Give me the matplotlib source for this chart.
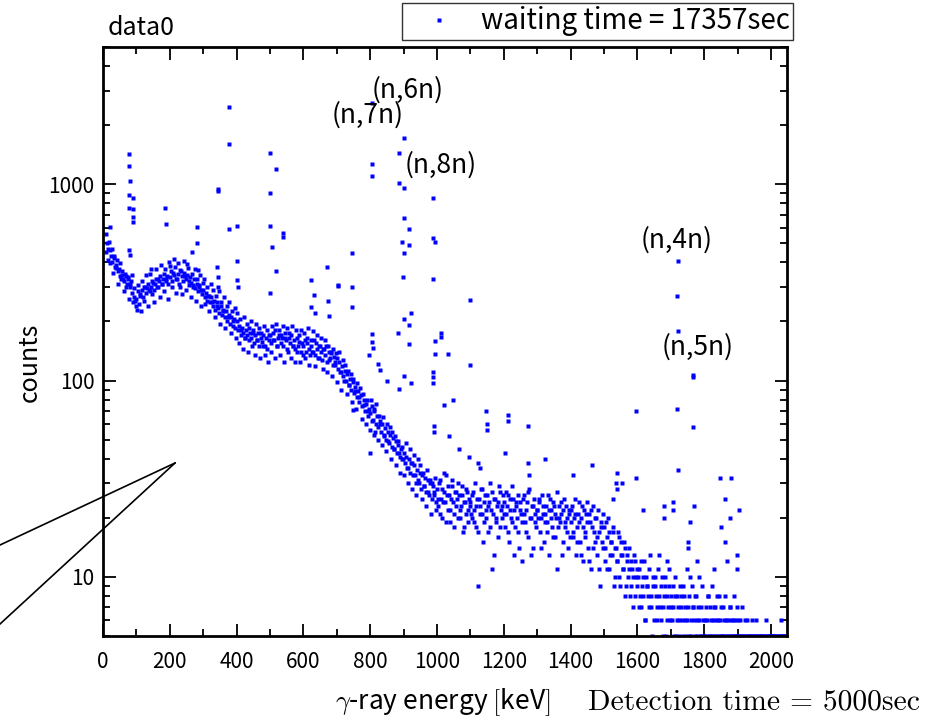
import numpy as np
import matplotlib
matplotlib.use("Agg")
import matplotlib.pyplot as plt
from matplotlib.lines import Line2D
from matplotlib.ticker import MultipleLocator, LogLocator, NullFormatter

plt.rcParams['font.family'] = ['Noto Sans CJK JP', 'DejaVu Sans']
plt.rcParams['mathtext.fontset'] = 'cm'

# continuum: two interleaved sets of channels,
# one at 0, 4, 8 ... keV and one at 2, 6, 10 ... keV
channel_step = 4
counts_a = [
    # 0 - 96
    1, 1, 450, 500, 470, 460, 430, 400, 420, 380, 390, 360, 370, 340, 345,
    330, 320, 340, 310, 330, 300, 320, 280, 265, 255,
    # 100 - 196
    260, 285, 245, 275, 290, 265, 300, 280, 295, 310, 285, 300, 320, 290, 310,
    330, 300, 320, 340, 310, 330, 350, 320, 340, 310,
    # 200 - 296
    335, 360, 320, 345, 380, 330, 350, 310, 365, 340, 320, 355, 330, 345, 305,
    335, 315, 300, 330, 295, 310, 285, 305, 290, 275,
    # 300 - 396
    290, 265, 280, 255, 270, 250, 265, 240, 255, 230, 250, 235, 220, 240, 215,
    230, 210, 225, 200, 215, 195, 210, 190, 205, 185,
    # 400 - 496
    200, 180, 190, 170, 185, 175, 165, 180, 170, 160, 175, 165, 180, 155, 170,
    160, 175, 150, 165, 158, 170, 150, 165, 145, 160,
    # 500 - 596
    170, 155, 175, 160, 180, 150, 165, 170, 155, 165, 150, 175, 160, 145, 165,
    155, 170, 150, 160, 145, 165, 150, 158, 140, 155,
    # 600 - 696
    150, 160, 140, 155, 145, 135, 150, 140, 160, 135, 145, 130, 150, 140, 128,
    145, 135, 150, 125, 140, 130, 138, 120, 132, 125,
    # 700 - 796
    130, 115, 125, 110, 118, 105, 112, 100, 108, 95, 102, 90, 98, 86, 93,
    82, 88, 78, 84, 74, 80, 70, 76, 66, 72,
    # 800 - 896
    68, 74, 63, 70, 60, 66, 58, 62, 55, 60, 52, 57, 50, 55, 48,
    53, 46, 51, 45, 49, 43, 47, 41, 45, 40,
    # 900 - 996
    43, 38, 41, 36, 40, 34, 38, 33, 37, 30, 35, 31, 34, 28, 33,
    29, 32, 27, 31, 26, 30, 25, 29, 27, 24,
    # 1000 - 1096
    28, 23, 31, 25, 20, 27, 24, 33, 22, 26, 19, 29, 24, 21, 27,
    25, 30, 20, 23, 26, 18, 24, 28, 22, 25,
    # 1100 - 1196
    24, 20, 27, 22, 18, 25, 9, 23, 28, 21, 19, 26, 22, 17, 24,
    30, 11, 21, 25, 19, 23, 16, 27, 22, 20,
    # 1200 - 1296
    24, 18, 21, 26, 15, 22, 19, 25, 13, 23, 20, 17, 24, 21, 12,
    26, 19, 22, 16, 28, 20, 23, 14, 21, 18,
    # 1300 - 1396
    22, 25, 17, 20, 23, 15, 21, 19, 26, 13, 22, 18, 24, 16, 20,
    11, 23, 19, 21, 15, 25, 18, 20, 14, 22,
    # 1400 - 1496
    19, 23, 16, 21, 13, 18, 24, 15, 20, 12, 22, 17, 19, 14, 21,
    11, 18, 23, 15, 20, 13, 17, 9, 19, 14,
    # 1500 - 1596
    18, 12, 16, 20, 11, 15, 13, 17, 10, 14, 12, 16, 9, 13, 11,
    15, 8, 12, 10, 14, 9, 11, 7, 12, 10,
    # 1600 - 1696
    9, 11, 8, 7, 10, 12, 6, 9, 8, 11, 7, 5, 9, 10, 8,
    6, 13, 7, 9, 5, 8, 10, 6, 7, 9,
    # 1700 - 1796
    8, 6, 7, 10, 5, 8, 6, 9, 7, 5, 8, 6, 11, 7, 5,
    6, 9, 7, 5, 8, 6, 10, 5, 7, 6,
    # 1800 - 1896
    5, 7, 6, 8, 5, 6, 9, 5, 7, 6, 5, 8, 6, 5, 7,
    5, 6, 12, 5, 7, 6, 5, 8, 6, 5,
    # 1900 - 1996
    6, 5, 5, 7, 5, 4, 5, 6, 5, 4, 5, 5, 3, 5, 6,
    4, 5, 5, 3, 5, 4, 5, 5, 4, 5,
    # 2000 - 2044
    5, 4, 5, 5, 3, 5, 4, 5, 5, 4, 5, 5,
]
counts_b = [
    # 2 - 98
    1, 1, 560, 410, 505, 395, 470, 355, 430, 375, 410, 310, 395, 330, 360,
    285, 350, 300, 335, 260, 310, 345, 250, 295, 240,
    # 102 - 198
    230, 305, 270, 225, 320, 255, 300, 345, 240, 290, 350, 275, 315, 250, 370,
    300, 330, 265, 390, 310, 285, 370, 330, 260, 400,
    # 202 - 298
    385, 300, 355, 415, 280, 330, 395, 300, 360, 275, 405, 340, 290, 375, 320,
    265, 350, 305, 370, 255, 330, 300, 345, 240, 315,
    # 302 - 398
    330, 245, 300, 270, 225, 310, 250, 290, 210, 270, 240, 285, 195, 250, 225,
    265, 185, 240, 210, 250, 175, 225, 200, 235, 165,
    # 402 - 498
    220, 155, 205, 180, 145, 210, 165, 195, 140, 185, 200, 150, 175, 135, 195,
    160, 185, 130, 175, 150, 190, 135, 180, 125, 170,
    # 502 - 598
    140, 190, 160, 130, 195, 150, 180, 135, 170, 190, 125, 165, 185, 140, 175,
    130, 190, 150, 125, 180, 140, 170, 125, 182, 135,
    # 602 - 698
    175, 130, 165, 185, 120, 160, 140, 178, 118, 155, 170, 130, 150, 165, 115,
    145, 160, 110, 150, 128, 140, 105, 145, 120, 138,
    # 702 - 798
    98, 140, 110, 90, 128, 100, 120, 85, 112, 95, 108, 78, 102, 88, 72,
    97, 82, 92, 64, 85, 75, 60, 80, 70, 56,
    # 802 - 898
    80, 62, 72, 55, 76, 50, 66, 60, 47, 65, 53, 44, 60, 49, 58,
    40, 55, 45, 52, 37, 49, 43, 34, 46, 40,
    # 902 - 998
    33, 48, 36, 30, 45, 38, 28, 42, 33, 26, 40, 30, 37, 25, 34,
    29, 23, 35, 27, 31, 21, 30, 26, 32, 22,
    # 1002 - 1098
    25, 30, 21, 28, 24, 34, 19, 26, 29, 22, 25, 31, 18, 27, 23,
    20, 26, 22, 29, 17, 24, 21, 27, 19, 23,
    # 1102 - 1198
    21, 26, 19, 30, 23, 17, 25, 21, 28, 15, 24, 20, 26, 23, 18,
    22, 27, 13, 25, 20, 24, 29, 18, 23, 26,
    # 1202 - 1298
    21, 27, 23, 17, 25, 20, 29, 22, 18, 24, 26, 14, 22, 19, 25,
    21, 17, 24, 27, 20, 13, 23, 25, 19, 22,
    # 1302 - 1398
    20, 24, 14, 26, 21, 19, 23, 17, 22, 25, 20, 16, 23, 21, 27,
    18, 20, 24, 13, 22, 19, 23, 17, 21, 16,
    # 1402 - 1498
    22, 17, 20, 25, 15, 21, 19, 13, 23, 18, 16, 21, 24, 12, 19,
    22, 14, 17, 20, 16, 22, 11, 18, 15, 21,
    # 1502 - 1598
    14, 19, 11, 17, 13, 15, 18, 9, 14, 12, 17, 10, 15, 13, 11,
    14, 9, 13, 11, 8, 12, 10, 13, 8, 11,
    # 1602 - 1698
    10, 7, 12, 9, 8, 6, 10, 9, 7, 13, 8, 10, 6, 9, 7,
    11, 8, 6, 10, 7, 9, 5, 8, 11, 6,
    # 1702 - 1798
    7, 9, 5, 8, 6, 7, 5, 8, 6, 9, 7, 5, 6, 8, 10,
    5, 7, 6, 8, 5, 7, 6, 5, 9, 5,
    # 1802 - 1898
    6, 5, 8, 5, 7, 5, 6, 7, 5, 8, 6, 5, 7, 5, 6,
    8, 5, 6, 5, 7, 5, 6, 5, 5, 7,
    # 1902 - 1998
    5, 6, 4, 5, 5, 6, 3, 5, 4, 5, 6, 4, 5, 5, 4,
    5, 3, 5, 5, 4, 5, 6, 4, 5, 5,
    # 2002 - 2046
    4, 5, 5, 3, 5, 4, 5, 6, 5, 4, 5, 5,
]
energy_a = np.arange(len(counts_a)) * channel_step
energy_b = np.arange(len(counts_b)) * channel_step + 2

# peaks and points standing above the continuum (energy keV, counts)
peaks = [
    (21, 604), (78, 1420), (78, 1235), (80, 1035), (78, 880), (90, 850), (78, 755),
    (90, 746), (90, 680), (90, 640), (78, 460), (80, 435),
    (145, 370), (186, 755), (189, 630), (252, 392), (267, 450), (282, 604), (282, 500),
    (284, 365), (342, 380), (343, 337), (345, 943), (345, 920), (345, 300),
    (378, 2465), (378, 1600), (378, 590), (400, 610), (400, 405), (400, 325), (403, 300),
    (500, 1440), (500, 900), (500, 610), (505, 480), (519, 1190), (540, 563), (540, 537),
    (500, 280), (517, 360),
    (623, 237), (624, 325), (633, 272), (636, 220), (672, 380), (675, 254), (677, 212),
    (705, 303), (705, 306), (747, 445), (747, 299), (747, 237), (750, 71),
    (795, 135), (800, 43), (804, 2580), (804, 1262), (804, 1100), (804, 172), (806, 157),
    (808, 146), (812, 53), (824, 122), (830, 113), (851, 100), (882, 175), (885, 1440),
    (885, 1020), (887, 91), (894, 508), (897, 337), (900, 1710), (900, 955), (900, 670),
    (900, 445), (900, 206), (902, 106), (915, 590), (915, 490), (915, 192), (915, 153),
    (923, 222), (923, 97),
    (987, 850), (987, 530), (987, 328), (987, 110), (987, 104), (987, 97), (990, 59),
    (990, 55), (993, 508), (993, 159), (993, 137), (1013, 175), (1013, 167), (1020, 75),
    (1034, 137), (1035, 52), (1047, 80),
    (1065, 45), (1097, 41), (1100, 257), (1100, 120), (1124, 38), (1128, 36), (1148, 70),
    (1151, 60), (1151, 56), (1203, 43), (1214, 67), (1214, 62), (1274, 59), (1274, 38),
    (1277, 33), (1322, 40), (1406, 33), (1463, 37),
    (1526, 25), (1535, 30), (1538, 34), (1538, 28), (1553, 30), (1595, 70), (1595, 32),
    (1616, 22), (1679, 23), (1679, 20), (1688, 12), (1706, 24), (1706, 22), (1718, 270),
    (1718, 72), (1721, 405), (1721, 179), (1721, 35), (1751, 15), (1751, 14), (1757, 19),
    (1766, 107), (1766, 104), (1766, 58), (1769, 23), (1778, 12), (1829, 11), (1847, 32),
    (1850, 18), (1862, 25), (1862, 15), (1877, 20), (1880, 32), (1898, 13), (1898, 11),
    (1904, 22),
]
peak_energy = np.array([p[0] for p in peaks])
peak_counts = np.array([p[1] for p in peaks])

reactions = ['(n,6n)', '(n,7n)', '(n,8n)', '(n,4n)', '(n,5n)']
reaction_pos = [(912, 3010), (792, 2245), (1010, 1250), (1719, 519), (1779, 148)]

W, H = 932, 723
fig = plt.figure(figsize=(W / 100, H / 100), dpi=100)
ax = fig.add_axes([103 / W, 1 - 636 / H, 684 / W, 589 / H])

ms = 3.3
ax.plot(energy_a, counts_a, 's', ms=ms, color='blue', mec='none',
        label='waiting time = 17357sec')
ax.plot(energy_b, counts_b, 's', ms=ms, color='blue', mec='none')
ax.plot(peak_energy, peak_counts, 's', ms=ms, color='blue', mec='none')

ax.set_yscale('log')
ax.set_xlim(0, 2048)
ax.set_ylim(5, 5000)
ax.xaxis.set_major_locator(MultipleLocator(200))
ax.xaxis.set_minor_locator(MultipleLocator(100))
ax.set_yticks([10, 100, 1000], labels=['10', '100', '1000'])
ax.yaxis.set_minor_locator(LogLocator(base=10, subs=np.arange(2, 10)))
ax.yaxis.set_minor_formatter(NullFormatter())
ax.tick_params(which='both', direction='in', top=True, right=True, width=1.3,
               labelsize=15)
ax.tick_params(which='major', length=9)
ax.tick_params(which='minor', length=5)
ax.tick_params(axis='x', pad=11)
ax.tick_params(axis='y', pad=6)
for s in ax.spines.values():
    s.set_linewidth(2)

for txt, (x, y) in zip(reactions, reaction_pos):
    ax.text(x, y, txt, ha='center', va='center', fontsize=19)

leg = ax.legend(loc='upper right', bbox_to_anchor=(793 / W, 1 - 3 / H),
                bbox_transform=fig.transFigure, fontsize=20, frameon=True,
                fancybox=False, edgecolor='black', markerscale=1.0,
                handlelength=2.4, handletextpad=0.3, borderpad=0.12,
                borderaxespad=0)
leg.get_frame().set_linewidth(1)

fig.text(108 / W, 1 - 28 / H, 'data0', fontsize=18, va='center')
fig.text(30 / W, 1 - 362 / H, 'counts', fontsize=18, rotation=90,
         ha='center', va='center')
fig.text(335 / W, 1 - 702 / H, r'$\gamma$-ray energy $[$keV$]$', fontsize=19,
         va='center')
fig.text(588 / W, 1 - 702 / H, 'Detection time = 5000sec', fontfamily='cmr10',
         fontsize=21.3, va='center')

fig.add_artist(Line2D([0, 175 / W], [1 - 545 / H, 1 - 463 / H],
                      transform=fig.transFigure, color='black', lw=1.2))
fig.add_artist(Line2D([0, 175 / W], [1 - 624 / H, 1 - 463 / H],
                      transform=fig.transFigure, color='black', lw=1.2))

fig.savefig('out.png', dpi=100)
